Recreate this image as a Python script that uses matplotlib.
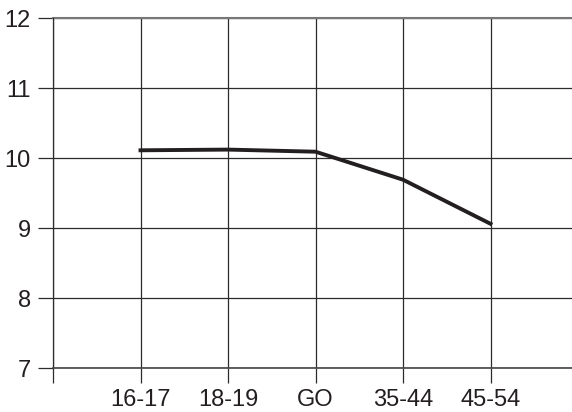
import matplotlib.pyplot as plt

groups = ['16-17', '18-19', 'GO', '35-44', '45-54']
values = [10.11, 10.12, 10.09, 9.69, 9.06]
y_ticks = [7, 8, 9, 10, 11, 12]

plt.rcParams['font.family'] = ['Liberation Sans', 'DejaVu Sans']

fig = plt.figure(figsize=(5.72, 4.12), dpi=100)
ax = fig.add_axes([53 / 572, 1 - 368 / 412, 519 / 572, 350 / 412])

x = list(range(1, len(groups) + 1))
ax.plot(x, values, color='#231f20', linewidth=2.8, solid_joinstyle='miter', zorder=3)

ax.set_xlim(0, 519 / 87.5)
ax.set_ylim(7, 12)
ax.set_xticks([0] + x)
ax.set_xticklabels([''] + groups)
ax.set_yticks(y_ticks)

ax.grid(True, color='#2b2b2b', linewidth=0.9)
for side in ['top', 'right']:
    ax.spines[side].set_visible(False)
ax.spines['left'].set_color('#2b2b2b')
ax.spines['bottom'].set_color('#444444')
ax.spines['left'].set_linewidth(0.9)
ax.spines['bottom'].set_linewidth(1.2)
ax.axhline(12, color='#777777', linewidth=1.5, clip_on=False)

ax.tick_params(axis='both', colors='#2b2b2b', labelcolor='#231f20', labelsize=17, length=11, width=0.9)
ax.tick_params(axis='y', pad=5)
ax.tick_params(axis='x', pad=4)

fig.savefig('out.png', dpi=100)
